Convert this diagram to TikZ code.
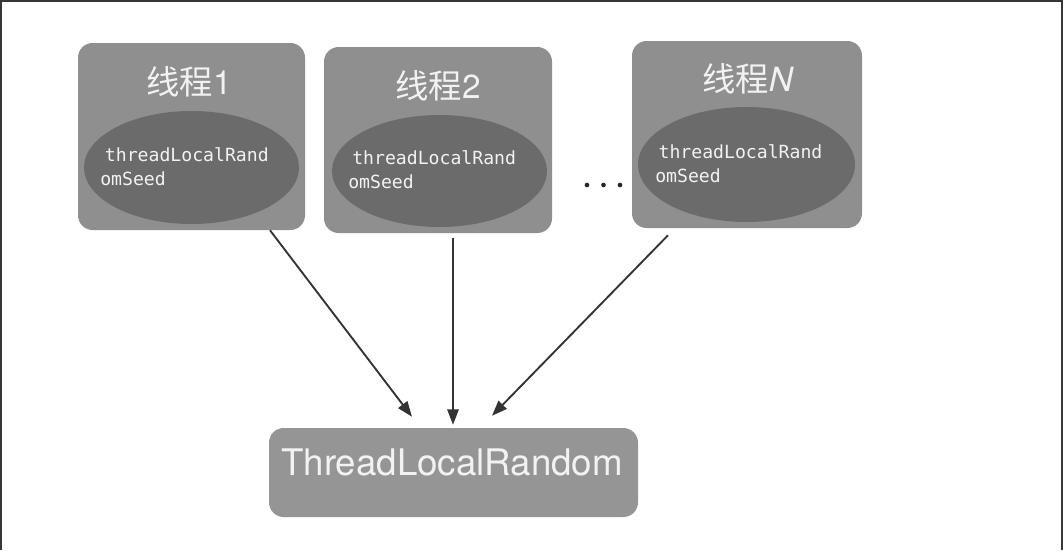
\documentclass[tikz,border=0pt]{standalone}
\usepackage{fontspec}
\setmainfont{TeX Gyre Heros}
\newfontfamily\cjk{Noto Sans CJK SC}
\newfontfamily\monof{DejaVu Sans Mono}
\usetikzlibrary{arrows.meta,shapes.geometric,calc}
\definecolor{boxgray}{HTML}{8F8F8F}
\definecolor{ellgray}{HTML}{6B6B6B}
\definecolor{botgray}{HTML}{959595}
\definecolor{txtwhite}{HTML}{F2F2F2}
\definecolor{arrowdark}{HTML}{333333}
\definecolor{framedark}{HTML}{34363A}
\tikzset{
  threadbox/.style={fill=boxgray, rounded corners=11pt, inner sep=0pt},
  seedell/.style={ellipse, fill=ellgray, inner sep=0pt},
  titletext/.style={text=txtwhite, font=\fontsize{25}{30}\selectfont, inner sep=0pt},
  seedtext/.style={text=txtwhite, font=\monof\fontsize{13.6}{18}\selectfont, align=left, anchor=west, inner sep=0pt},
  tlrbox/.style={fill=botgray, rounded corners=11pt, inner sep=0pt, minimum width=276.75pt, minimum height=66.75pt},
  arr/.style={draw=arrowdark, line width=1.4pt, -{Triangle[length=11.5pt,width=8.5pt]}},
  dotmark/.style={circle, fill=black!85, inner sep=0pt, minimum size=3.5pt}
}
\begin{document}
\begin{tikzpicture}[x=0.75pt,y=-0.75pt]
\useasboundingbox (0,0) rectangle (1063,550);
\fill[white] (0,0) rectangle (1063,550);
\draw[framedark, line width=3pt] (0,550) -- (0,0) -- (1063,0) -- (1063,550);

% thread boxes
\node[threadbox, minimum width=170.25pt, minimum height=140.25pt] (b1) at (191.5,136.5) {};
\node[threadbox, minimum width=171pt, minimum height=139.5pt] (b2) at (438,140) {};
\node[threadbox, minimum width=172.5pt, minimum height=140.25pt] (b3) at (747,134.5) {};

% seed ellipses
\node[seedell, minimum width=161.25pt, minimum height=84.75pt] (e1) at (191.5,167.5) {};
\node[seedell, minimum width=161.25pt, minimum height=84pt] (e2) at (439.5,171) {};
\node[seedell, minimum width=162.75pt, minimum height=86.25pt] (e3) at (746.5,164.5) {};

% titles
\node[titletext] (t1) at (189,82) {{\cjk 线程}1};
\node[titletext] (t2) at (438,86) {{\cjk 线程}2};
\node[titletext] (t3) at (748,79) {{\cjk 线程}\textit{N}};

% seed texts
\node[seedtext] (s1) at (100,166.5) {\hspace{3.5pt}threadLocalRand\\omSeed};
\node[seedtext] (s2) at (348,170) {\hspace{3pt}threadLocalRand\\omSeed};
\node[seedtext] (s3) at (655,163.5) {\hspace{2.5pt}threadLocalRand\\omSeed};

% dots
\node[dotmark] (d1) at (587,185) {};
\node[dotmark] (d2) at (603.5,185) {};
\node[dotmark] (d3) at (620,185) {};

% bottom box
\node[tlrbox] (tr) at (453.5,472.5) {};
\node[text=txtwhite, font=\fontsize{27.5}{33}\selectfont, inner sep=0pt] (trt) at (452,462) {ThreadLocalRandom};

% arrows
\draw[arr] ($(b1.south)+(78.5,0)$) -- ($(tr.north)+(-41.5,-11)$);
\draw[arr] ($(b2.south)+(15,5)$) -- ($(tr.north)+(-0.5,-3)$);
\draw[arr] ($(b3.south)+(-79,7)$) -- ($(tr.north)+(38.5,-12)$);
\end{tikzpicture}
\end{document}
